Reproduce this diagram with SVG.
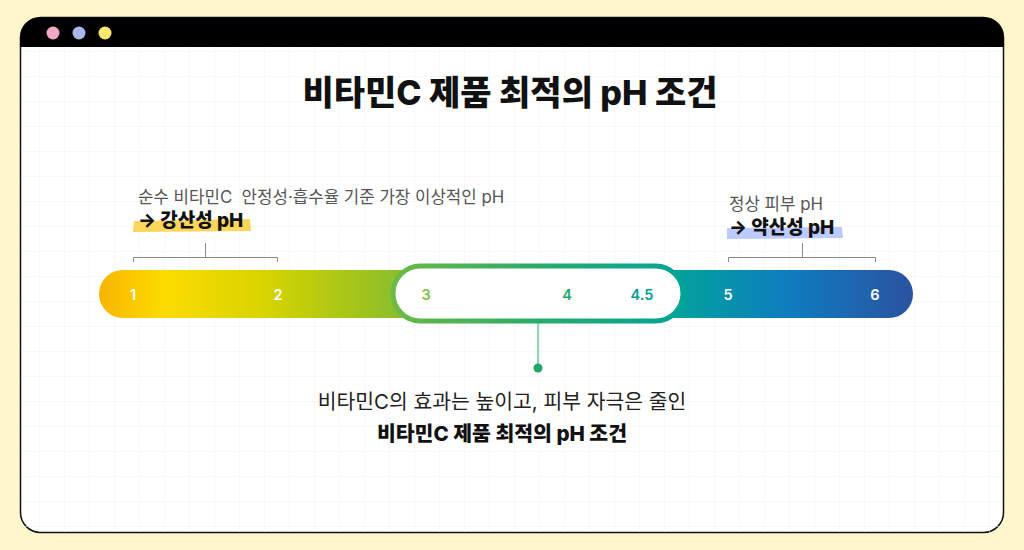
<svg xmlns="http://www.w3.org/2000/svg" width="1024" height="550" viewBox="0 0 1024 550">
<defs>
<pattern id="grid" x="15" y="2" width="25" height="25" patternUnits="userSpaceOnUse">
<path d="M25 0V25M0 25H25" fill="none" stroke="#f1f1f1" stroke-width="1"/>
</pattern>
<linearGradient id="bar" x1="99" y1="0" x2="913" y2="0" gradientUnits="userSpaceOnUse">
<stop offset="0" stop-color="#f9b400"/>
<stop offset="0.08" stop-color="#fcdc00"/>
<stop offset="0.2" stop-color="#d9d400"/>
<stop offset="0.33" stop-color="#9cc31e"/>
<stop offset="0.43" stop-color="#6ab84a"/>
<stop offset="0.55" stop-color="#2aaa6a"/>
<stop offset="0.7" stop-color="#00a49a"/>
<stop offset="0.85" stop-color="#0f7cbf"/>
<stop offset="1" stop-color="#2a52a0"/>
</linearGradient>
<linearGradient id="ring" x1="393" y1="0" x2="683" y2="0" gradientUnits="userSpaceOnUse">
<stop offset="0" stop-color="#6cba45"/>
<stop offset="0.5" stop-color="#2aaa6a"/>
<stop offset="1" stop-color="#00a496"/>
</linearGradient>
<style>
text{font-family:"Inter","Noto Sans CJK KR","Noto Sans",sans-serif}
.t{font-size:34px;font-weight:800;fill:#111}
.note{font-size:16.8px;fill:#555}
.hl{font-size:19px;font-weight:800;fill:#111}
.num{font-size:14.5px;font-weight:600;text-anchor:middle}
.br{fill:none;stroke:#888;stroke-width:1}
</style>
</defs>
<rect width="1024" height="550" fill="#fdf6cd"/>
<g id="window">
<rect x="20.5" y="17.5" width="983" height="515" rx="20" fill="#fff" stroke="#111" stroke-width="1.5"/>
<rect x="21" y="46" width="982" height="486" fill="url(#grid)"/>
<path d="M20.5 47V37.5A20 20 0 0 1 40.5 17.5H983.5A20 20 0 0 1 1003.5 37.5V47Z" fill="#000"/>
<circle cx="53" cy="33" r="6.5" fill="#f4a8c8"/>
<circle cx="79" cy="33" r="6.5" fill="#a8b8e8"/>
<circle cx="105" cy="33" r="6.5" fill="#fde870"/>
</g>
<g id="title"><text class="t" x="510" y="105" text-anchor="middle">비타민C 제품 최적의 pH 조건</text></g>
<g id="left-note">
<path d="M134 221L250 219L251 231L133 232Z" fill="#fcd65a"/>
<text class="note" x="138" y="203" xml:space="preserve">순수 비타민C  안정성·흡수율 기준 가장 이상적인 pH</text>
<text class="hl" x="138" y="227">→ 강산성 pH</text>
</g>
<g id="right-note">
<path d="M727 228L842 227L843 238L727 239Z" fill="#bccbff"/>
<text class="note" x="729" y="210">정상 피부 pH</text>
<text class="hl" x="729" y="234">→ 약산성 pH</text>
</g>
<g id="connectors">
<path class="br" d="M133.5 262V257.5H277.5V262M205.5 257.5V243"/>
<path class="br" d="M728.5 262V257.5H875.5V262M802.5 257.5V243"/>
<line x1="538" y1="323" x2="538" y2="368" stroke="#8fd6b8" stroke-width="2"/>
<circle cx="538" cy="368" r="4.5" fill="#22a86a"/>
</g>
<g id="scale">
<rect x="99" y="270" width="814" height="48" rx="24" fill="url(#bar)"/>
<rect x="393" y="266" width="290" height="55" rx="27.5" fill="#fff" stroke="url(#ring)" stroke-width="5"/>
<text class="num" x="133" y="300" fill="#fff">1</text>
<text class="num" x="278" y="300" fill="#fff">2</text>
<text class="num" x="426" y="300" fill="#7cc242">3</text>
<text class="num" x="567" y="300" fill="#22a86a">4</text>
<text class="num" x="642" y="300" fill="#00a08f">4.5</text>
<text class="num" x="728" y="300" fill="#fff">5</text>
<text class="num" x="875" y="300" fill="#fff">6</text>
</g>
<g id="summary">
<text x="502" y="409" text-anchor="middle" font-size="20.4" fill="#222">비타민C의 효과는 높이고, 피부 자극은 줄인</text>
<text x="502" y="441" text-anchor="middle" font-size="20.5" font-weight="800" fill="#111">비타민C 제품 최적의 pH 조건</text>
</g>
</svg>
